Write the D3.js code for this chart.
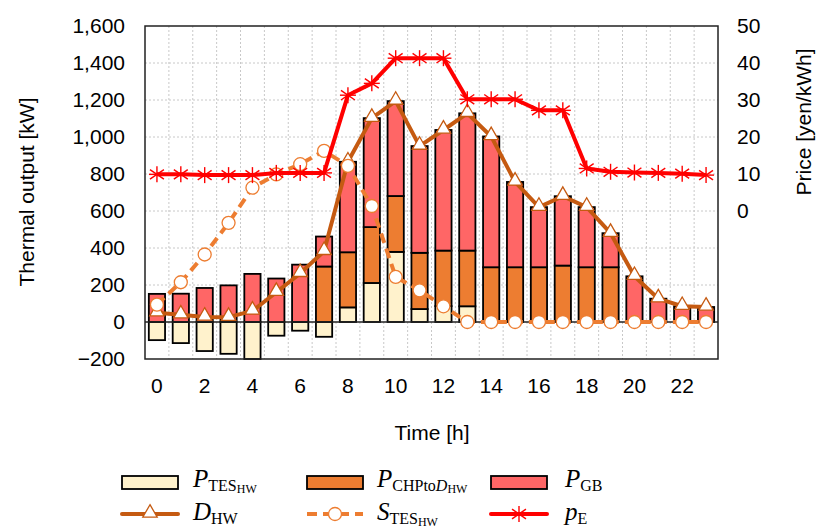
<!DOCTYPE html>
<html>
<head>
<meta charset="utf-8">
<script src="https://cdn.jsdelivr.net/npm/d3@7"></script>
<style>
  body { margin: 0; background: #fff; }
  text { font-family: "Liberation Sans", Arial, sans-serif; }
  .leg text { font-family: "Liberation Serif", "DejaVu Serif", serif; }
</style>
</head>
<body>
<div class="canva"></div>
<script>
// hourly values
const hours = [0,1,2,3,4,5,6,7,8,9,10,11,12,13,14,15,16,17,18,19,20,21,22,23];
const tesOut = [-98,-114,-157,-172,-200,-74,-47,-80,79,211,379,70,86,85,0,0,0,0,0,0,0,0,0,0];
const chpOut = [0,0,0,0,0,0,0,300,298,302,302,304,300,301,296,296,296,305,296,296,0,0,0,0];
const gbOut = [152,153,184,198,260,235,310,162,489,589,513,577,652,742,707,461,325,375,325,184,247,126,85,81];
const demand = [50,39,27,26,60,161,263,382,866,1102,1194,951,1038,1128,1003,757,621,680,621,480,247,126,85,81];
const storage = [94,215,365,536,726,798,853,925,844,627,244,171,85,0,0,0,0,0,0,0,0,0,0,0];
const price = [9.9,9.9,9.7,9.7,9.7,10.3,10.3,10.3,31.3,34.5,41.3,41.3,41.3,30.2,30.2,30.2,27.2,27.2,11.5,10.6,10.4,10.3,10.1,9.7];
const xTicks = [0,2,4,6,8,10,12,14,16,18,20,22];
const leftTicks = [-200,0,200,400,600,800,1000,1200,1400,1600];
const rightTicks = [0,10,20,30,40,50];

const W = 816, H = 530;
const margin = {top: 26, right: 98, bottom: 171, left: 145};
const pw = W - margin.left - margin.right;
const ph = H - margin.top - margin.bottom;

const svg = d3.select(".canva").append("svg")
    .attr("width", W).attr("height", H);

const g = svg.append("g").attr("transform", `translate(${margin.left}, ${margin.top})`);

const x = d3.scaleBand().domain(hours).range([0, pw]).paddingInner(0.32).paddingOuter(0.16);
const y = d3.scaleLinear().domain([-200, 1600]).range([ph, 0]);
const y2 = d3.scaleLinear().domain([-40, 50]).range([ph, 0]);
const cx = h => x(h) + x.bandwidth() / 2;

// grid
g.append("g").selectAll("line").data(hours.slice(1)).enter().append("line")
    .attr("x1", h => x(h) - x.step() * x.paddingInner() / 2)
    .attr("x2", h => x(h) - x.step() * x.paddingInner() / 2)
    .attr("y1", 0).attr("y2", ph)
    .attr("stroke", "#c8c8c8").attr("stroke-dasharray", "2,2");
g.append("g").selectAll("line").data(leftTicks.filter(v => v > -200 && v < 1600 && v !== 0)).enter().append("line")
    .attr("x1", 0).attr("x2", pw)
    .attr("y1", d => y(d)).attr("y2", d => y(d))
    .attr("stroke", "#c8c8c8").attr("stroke-dasharray", "2,2");

// stacked bars
const rows = hours.map((h, i) => ({hour: h, tes: tesOut[i], chp: chpOut[i], gb: gbOut[i]}));
const keys = ["tes", "chp", "gb"];
const fills = {tes: "#FFF2CC", chp: "#ED7D31", gb: "#FF6666"};
const stacked = d3.stack().keys(keys).offset(d3.stackOffsetDiverging)(rows);

g.append("g").selectAll("g").data(stacked).enter().append("g")
    .attr("fill", d => fills[d.key])
    .selectAll("rect").data(d => d.filter(s => s[1] !== s[0])).enter().append("rect")
    .attr("x", d => x(d.data.hour))
    .attr("width", x.bandwidth())
    .attr("y", d => y(Math.max(d[0], d[1])))
    .attr("height", d => Math.abs(y(d[0]) - y(d[1])))
    .attr("stroke", "#000").attr("stroke-width", 1.8);

// zero line
g.append("line").attr("x1", 0).attr("x2", pw).attr("y1", y(0)).attr("y2", y(0))
    .attr("stroke", "#222").attr("stroke-width", 1.5);

// border
g.append("rect").attr("width", pw).attr("height", ph)
    .attr("fill", "none").attr("stroke", "#222").attr("stroke-width", 1.5);

// lines
const dLine = d3.line().x((d, i) => cx(hours[i])).y(d => y(d));
g.append("path").datum(demand).attr("d", dLine)
    .attr("fill", "none").attr("stroke", "#C55A11").attr("stroke-width", 4).attr("stroke-linejoin", "round");

const triangle = d3.symbol().type(d3.symbolTriangle).size(90);
g.append("g").selectAll("path").data(demand).enter().append("path")
    .attr("d", triangle)
    .attr("transform", (d, i) => `translate(${cx(hours[i])}, ${y(d) - 1})`)
    .attr("fill", "#fff").attr("stroke", "#C55A11").attr("stroke-width", 1.3);

g.append("path").datum(storage).attr("d", dLine)
    .attr("fill", "none").attr("stroke", "#ED7D31").attr("stroke-width", 4)
    .attr("stroke-dasharray", "10,6");
g.append("g").selectAll("circle").data(storage).enter().append("circle")
    .attr("cx", (d, i) => cx(hours[i])).attr("cy", d => y(d)).attr("r", 6.5)
    .attr("fill", "#fff").attr("stroke", "#ED7D31").attr("stroke-width", 1.3);

const pLine = d3.line().x((d, i) => cx(hours[i])).y(d => y2(d));
g.append("path").datum(price).attr("d", pLine)
    .attr("fill", "none").attr("stroke", "#FF0000").attr("stroke-width", 4).attr("stroke-linejoin", "round");

function star(sel, r) {
  sel.append("line").attr("x1", 0).attr("x2", 0).attr("y1", -r).attr("y2", r);
  sel.append("line").attr("x1", -r * 0.87).attr("x2", r * 0.87).attr("y1", -r * 0.6).attr("y2", r * 0.6);
  sel.append("line").attr("x1", -r * 0.87).attr("x2", r * 0.87).attr("y1", r * 0.6).attr("y2", -r * 0.6);
  sel.append("line").attr("x1", -r).attr("x2", r).attr("y1", 0).attr("y2", 0);
}
g.append("g").selectAll("g").data(price).enter().append("g")
    .attr("transform", (d, i) => `translate(${cx(hours[i])}, ${y2(d)})`)
    .attr("stroke", "#FF0000").attr("stroke-width", 1.4)
    .call(star, 8);

// axes labels
const xAxisGroup = g.append("g").attr("transform", `translate(0, ${ph})`);
xAxisGroup.call(d3.axisBottom(x).tickValues(xTicks).tickSize(0).tickPadding(19));
xAxisGroup.select(".domain").remove();

const yAxisGroup = g.append("g");
yAxisGroup.call(d3.axisLeft(y).tickValues(leftTicks).tickSize(0).tickPadding(20).tickFormat(d3.format(",")));
yAxisGroup.select(".domain").remove();

const y2AxisGroup = g.append("g").attr("transform", `translate(${pw}, 0)`);
y2AxisGroup.call(d3.axisRight(y2).tickValues(rightTicks).tickSize(0).tickPadding(19));
y2AxisGroup.select(".domain").remove();

g.selectAll(".tick text").attr("font-size", 21).attr("fill", "#000")
    .attr("font-family", "Liberation Sans, Arial, sans-serif");

svg.append("text").attr("x", 432).attr("y", 440).attr("text-anchor", "middle")
    .attr("font-size", 21).text("Time [h]");
svg.append("text").attr("transform", "translate(34, 192) rotate(-90)").attr("text-anchor", "middle")
    .attr("font-size", 21).text("Thermal output [kW]");
svg.append("text").attr("transform", "translate(811, 122) rotate(-90)").attr("text-anchor", "middle")
    .attr("font-size", 21).text("Price [yen/kWh]");

// legend
const leg = svg.append("g").attr("class", "leg");
const legX = [122, 307, 491];
const swatchKeys = ["tes", "chp", "gb"];
swatchKeys.forEach((k, i) => {
  leg.append("rect").attr("x", legX[i]).attr("y", 476).attr("width", 56).attr("height", 13)
      .attr("fill", fills[k]).attr("stroke", "#000").attr("stroke-width", 1.8);
});

function label(xp, yp, parts) {
  const t = leg.append("text").attr("x", xp).attr("y", yp).attr("fill", "#000");
  parts.forEach(p => {
    t.append("tspan").attr("font-size", p.size).attr("font-style", p.italic ? "italic" : "normal")
        .attr("dy", p.dy || 0).text(p.t);
  });
}
label(193, 487, [{t: "P", size: 25, italic: true}, {t: "TES", size: 16, dy: 4}, {t: "HW", size: 12, dy: 2}]);
label(377, 487, [{t: "P", size: 25, italic: true}, {t: "CHPto", size: 16, dy: 4}, {t: "D", size: 16, italic: true}, {t: "HW", size: 12, dy: 2}]);
label(565, 487, [{t: "P", size: 25, italic: true}, {t: "GB", size: 16, dy: 4}]);
label(193, 520, [{t: "D", size: 25, italic: true}, {t: "HW", size: 16, dy: 4}]);
label(377, 520, [{t: "S", size: 25, italic: true}, {t: "TES", size: 16, dy: 4}, {t: "HW", size: 12, dy: 2}]);
label(565, 520, [{t: "p", size: 25, italic: true}, {t: "E", size: 16, dy: 4}]);

const ly = 514;
leg.append("line").attr("x1", legX[0]).attr("x2", legX[0] + 56).attr("y1", ly).attr("y2", ly)
    .attr("stroke", "#C55A11").attr("stroke-width", 4).attr("stroke-linecap", "round");
leg.append("path").attr("d", triangle).attr("transform", `translate(${legX[0] + 28}, ${ly - 1})`)
    .attr("fill", "#fff").attr("stroke", "#C55A11").attr("stroke-width", 1.3);
leg.append("line").attr("x1", legX[1]).attr("x2", legX[1] + 56).attr("y1", ly).attr("y2", ly)
    .attr("stroke", "#ED7D31").attr("stroke-width", 4).attr("stroke-dasharray", "10,6");
leg.append("circle").attr("cx", legX[1] + 28).attr("cy", ly).attr("r", 6.5)
    .attr("fill", "#fff").attr("stroke", "#ED7D31").attr("stroke-width", 1.3);
leg.append("line").attr("x1", legX[2]).attr("x2", legX[2] + 56).attr("y1", ly).attr("y2", ly)
    .attr("stroke", "#FF0000").attr("stroke-width", 4).attr("stroke-linecap", "round");
leg.append("g").attr("transform", `translate(${legX[2] + 28}, ${ly})`)
    .attr("stroke", "#FF0000").attr("stroke-width", 1.4).call(star, 8);
</script>
</body>
</html>
